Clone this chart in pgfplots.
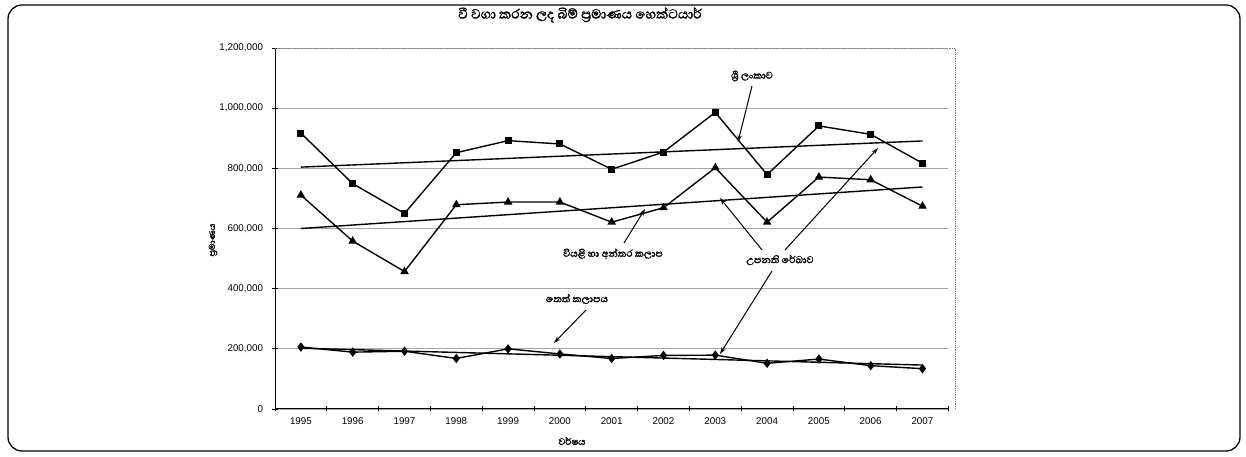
\documentclass[border=0pt]{standalone}
\usepackage{fontspec}
\setmainfont{Liberation Sans}
\newfontfamily\sinhfont[Script=Sinhala, AutoFakeBold=1.6]{Abhaya Libre}
\usepackage{pgfplots}
\pgfplotsset{compat=1.18}
\usetikzlibrary{arrows.meta}

\pgfplotstableread{
year total dry wet
1995 917000 711000 206000
1996 749000 558000 189000
1997 650000 457000 192000
1998 852000 679000 168000
1999 892000 688000 200000
2000 881000 688000 183000
2001 797000 621000 168000
2002 854000 669000 178000
2003 986000 802000 179000
2004 779000 621000 152000
2005 941000 771000 166000
2006 913000 762000 144000
2007 817000 674000 134000
}\datatable

\begin{document}
\begin{tikzpicture}
\useasboundingbox (0,0) rectangle (1246bp,457bp);
\draw[line width=1.3bp, rounded corners=14bp] (8bp,6bp) rectangle (1240bp,452bp);
\begin{axis}[
  at={(275bp,48bp)}, anchor=south west,
  scale only axis, width=673.4bp, height=361bp,
  xmin=1994.5, xmax=2007.5, ymin=0, ymax=1200000,
  axis x line*=bottom, axis y line*=left,
  axis line style={-, black, line width=1bp},
  xtick={1995,...,2007},
  xticklabels={1995,1996,1997,1998,1999,2000,2001,2002,2003,2004,2005,2006,2007},
  minor xtick={1994.5,1995.5,...,2007.5},
  major x tick style={draw=none},
  minor x tick style={black, line width=0.7bp},
  minor tick length=5bp,
  ytick={0,200000,400000,600000,800000,1000000,1200000},
  yticklabels={0,{200,000},{400,000},{600,000},{800,000},{1,000,000},{1,200,000}},
  scaled y ticks=false,
  major tick length=7bp,
  tick align=center,
  ytick style={black, line width=0.7bp},
  ymajorgrids,
  grid style={gray!70, line width=0.8bp},
  ticklabel style={font=\fontsize{9.8bp}{11bp}\selectfont},
  xticklabel style={yshift=-2bp},
  yticklabel style={xshift=-5bp},
  clip=false,
]
\draw[densely dotted, gray, line width=0.8bp] (rel axis cs:0,1) -- (rel axis cs:1.01,1) -- (rel axis cs:1.01,0);
\addplot[black, line width=1.4bp, mark=square*, mark size=2.8bp] table[x=year, y=total] {\datatable};
\addplot[black, line width=1.4bp, mark=triangle*, mark size=3.6bp] table[x=year, y=dry] {\datatable};
\addplot[black, line width=1.4bp, mark=diamond*, mark size=3.6bp] table[x=year, y=wet] {\datatable};
\addplot[black, line width=1.4bp] coordinates {(1995,804000) (2007,891000)};
\addplot[black, line width=1.4bp] coordinates {(1995,600000) (2007,738000)};
\addplot[black, line width=1.4bp] coordinates {(1995,202000) (2007,146000)};
\end{axis}
\begin{scope}[shift={(0bp,457bp)}, x=1bp, y=-1bp]
\node[font=\sinhfont\bfseries\fontsize{17bp}{19bp}\selectfont] at (580,15) {වී වගා කරන ලද බිම් ප්‍රමාණය හෙක්ටයාර්};
\node[rotate=90, font=\sinhfont\bfseries\fontsize{11bp}{12bp}\selectfont] at (213,240) {ප්‍රමාණය};
\node[font=\sinhfont\bfseries\fontsize{12bp}{13bp}\selectfont] at (572,441) {වර්ෂය};
\tikzset{ann/.style={font=\sinhfont\bfseries\fontsize{12.5bp}{14bp}\selectfont}, arr/.style={-{Stealth[length=7bp,width=4.5bp]}, line width=1bp}}
\node[ann] at (752,76) {ශ්‍රී ලංකාව};
\draw[arr] (752,86) -- (738,142);
\node[ann] at (613,254) {වියළි හා අන්තර කලාප};
\draw[arr] (624,243) -- (645,209);
\node[ann] at (577,299) {තෙත් කලාපය};
\draw[arr] (586,310) -- (554,343);
\node[ann] at (780,260) {උපනති රේඛාව};
\draw[arr] (762,250) -- (720,198);
\draw[arr] (785,250) -- (878,148);
\draw[arr] (772,271) -- (720,354);
\end{scope}
\end{tikzpicture}
\end{document}
